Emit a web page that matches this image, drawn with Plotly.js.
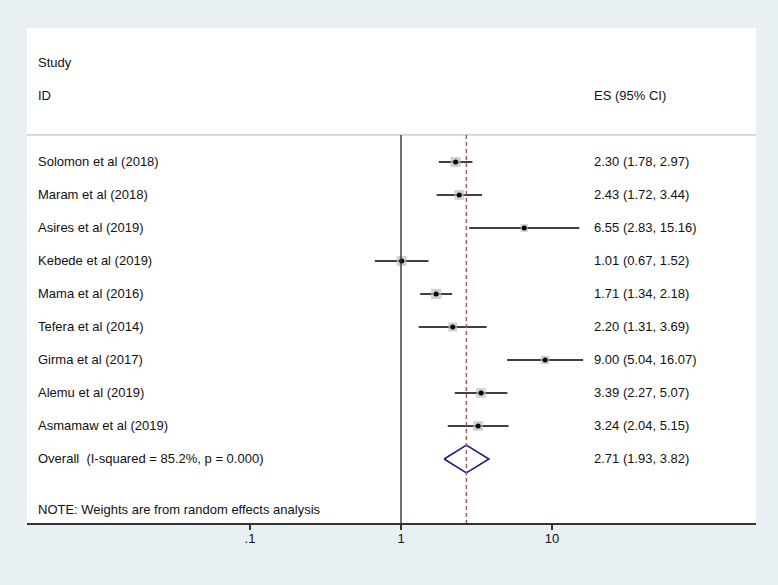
<!DOCTYPE html>
<html>
<head>
<meta charset="utf-8">
<script src="https://cdn.plot.ly/plotly-3.0.1.min.js"></script>
<style>html,body{margin:0;padding:0;background:#e8f0f3;}#chart{width:778px;height:585px;}</style>
</head>
<body>
<div id="chart"></div>
<script>
// ---- data ----
const studies = ["Solomon et al (2018)", "Maram et al (2018)", "Asires et al (2019)", "Kebede et al (2019)",
  "Mama et al (2016)", "Tefera et al (2014)", "Girma et al (2017)", "Alemu et al (2019)", "Asmamaw et al (2019)"];
const es = [2.30, 2.43, 6.55, 1.01, 1.71, 2.20, 9.00, 3.39, 3.24];
const lo = [1.78, 1.72, 2.83, 0.67, 1.34, 1.31, 5.04, 2.27, 2.04];
const hi = [2.97, 3.44, 15.16, 1.52, 2.18, 3.69, 16.07, 5.07, 5.15];
const weights = [12.2, 11.4, 7.0, 11.6, 12.6, 9.4, 8.6, 11.0, 10.8]; // estimated % weights
const overallLabel = "Overall  (I-squared = 85.2%, p = 0.000)";
const overall = {es: 2.71, lo: 1.93, hi: 3.82};
const tickVals = [0.1, 1, 10];
const tickText = [".1", "1", "10"];
const note = "NOTE: Weights are from random effects analysis";

// ---- build ----
const rows = studies.map((_, i) => i + 1);
const overallRow = studies.length + 1;
const fmt = (a, b, c) => a.toFixed(2) + " (" + b.toFixed(2) + ", " + c.toFixed(2) + ")";
const FONT = {family: "Liberation Sans, Arial, sans-serif", size: 13, color: "#111"};

const ciX = [], ciY = [];
studies.forEach((_, i) => { ciX.push(lo[i], hi[i], null); ciY.push(rows[i], rows[i], null); });

const dh = 0.42;
const traces = [
  {type: "scatter", mode: "lines", x: ciX, y: ciY, line: {color: "#000", width: 1.5}, hoverinfo: "skip"},
  {type: "scatter", mode: "markers", x: es, y: rows, hoverinfo: "skip",
   marker: {symbol: "square", color: "#bcbcbc", size: weights.map(w => 2.9 * Math.sqrt(w)), line: {width: 0}}},
  {type: "scatter", mode: "markers", x: es, y: rows, hoverinfo: "skip",
   marker: {symbol: "circle", color: "#000", size: 5}},
  {type: "scatter", mode: "lines", hoverinfo: "skip",
   x: [overall.lo, overall.es, overall.hi, overall.es, overall.lo],
   y: [overallRow, overallRow - dh, overallRow, overallRow + dh, overallRow],
   line: {color: "#1c1c86", width: 1.6}}
];

const L = 27, R = 756, plotW = R - L;
const px = p => (p - L) / plotW;
const ann = [];
const addText = (text, xp, y) => ann.push({text, x: px(xp), xref: "paper", y, yref: "y",
  xanchor: "left", yanchor: "middle", showarrow: false, font: FONT});
addText("Study", 36, -2);
addText("ID", 36, -1);
addText("ES (95% CI)", 592, -1);
studies.forEach((s, i) => { addText(s, 36, rows[i]); addText(fmt(es[i], lo[i], hi[i]), 592, rows[i]); });
addText(overallLabel, 36, overallRow);
addText(fmt(overall.es, overall.lo, overall.hi), 592, overallRow);
addText(note, 36, 11.52);

const yTop = 0.18, yBot = 11.94;
const layout = {
  width: 778, height: 585,
  margin: {l: L, r: 778 - R, t: 28, b: 62},
  paper_bgcolor: "#e8f0f3", plot_bgcolor: "#ffffff",
  showlegend: false,
  font: FONT,
  xaxis: {type: "log", range: [-2.477, 2.351], tickvals: tickVals, ticktext: tickText,
    ticks: "outside", ticklen: 5, tickwidth: 1.2, tickcolor: "#333", ticklabelstandoff: -2,
    showline: true, linecolor: "#333", linewidth: 1.6, showgrid: false, zeroline: false,
    tickfont: FONT, fixedrange: true},
  yaxis: {range: [yBot, -3.06], visible: false, fixedrange: true},
  shapes: [
    {type: "line", xref: "paper", yref: "y", x0: 0, x1: 1, y0: yTop, y1: yTop, line: {color: "#b4b4b4", width: 1}},
    {type: "line", xref: "x", yref: "y", x0: 1, x1: 1, y0: yTop, y1: yBot, line: {color: "#333", width: 1.4}},
    {type: "line", xref: "x", yref: "y", x0: overall.es, x1: overall.es, y0: yTop, y1: yBot,
     line: {color: "#b05a62", width: 1.5, dash: "4px,3px"}}
  ],
  annotations: ann
};
Plotly.newPlot("chart", traces, layout, {displayModeBar: false, staticPlot: true});
</script>
</body>
</html>
